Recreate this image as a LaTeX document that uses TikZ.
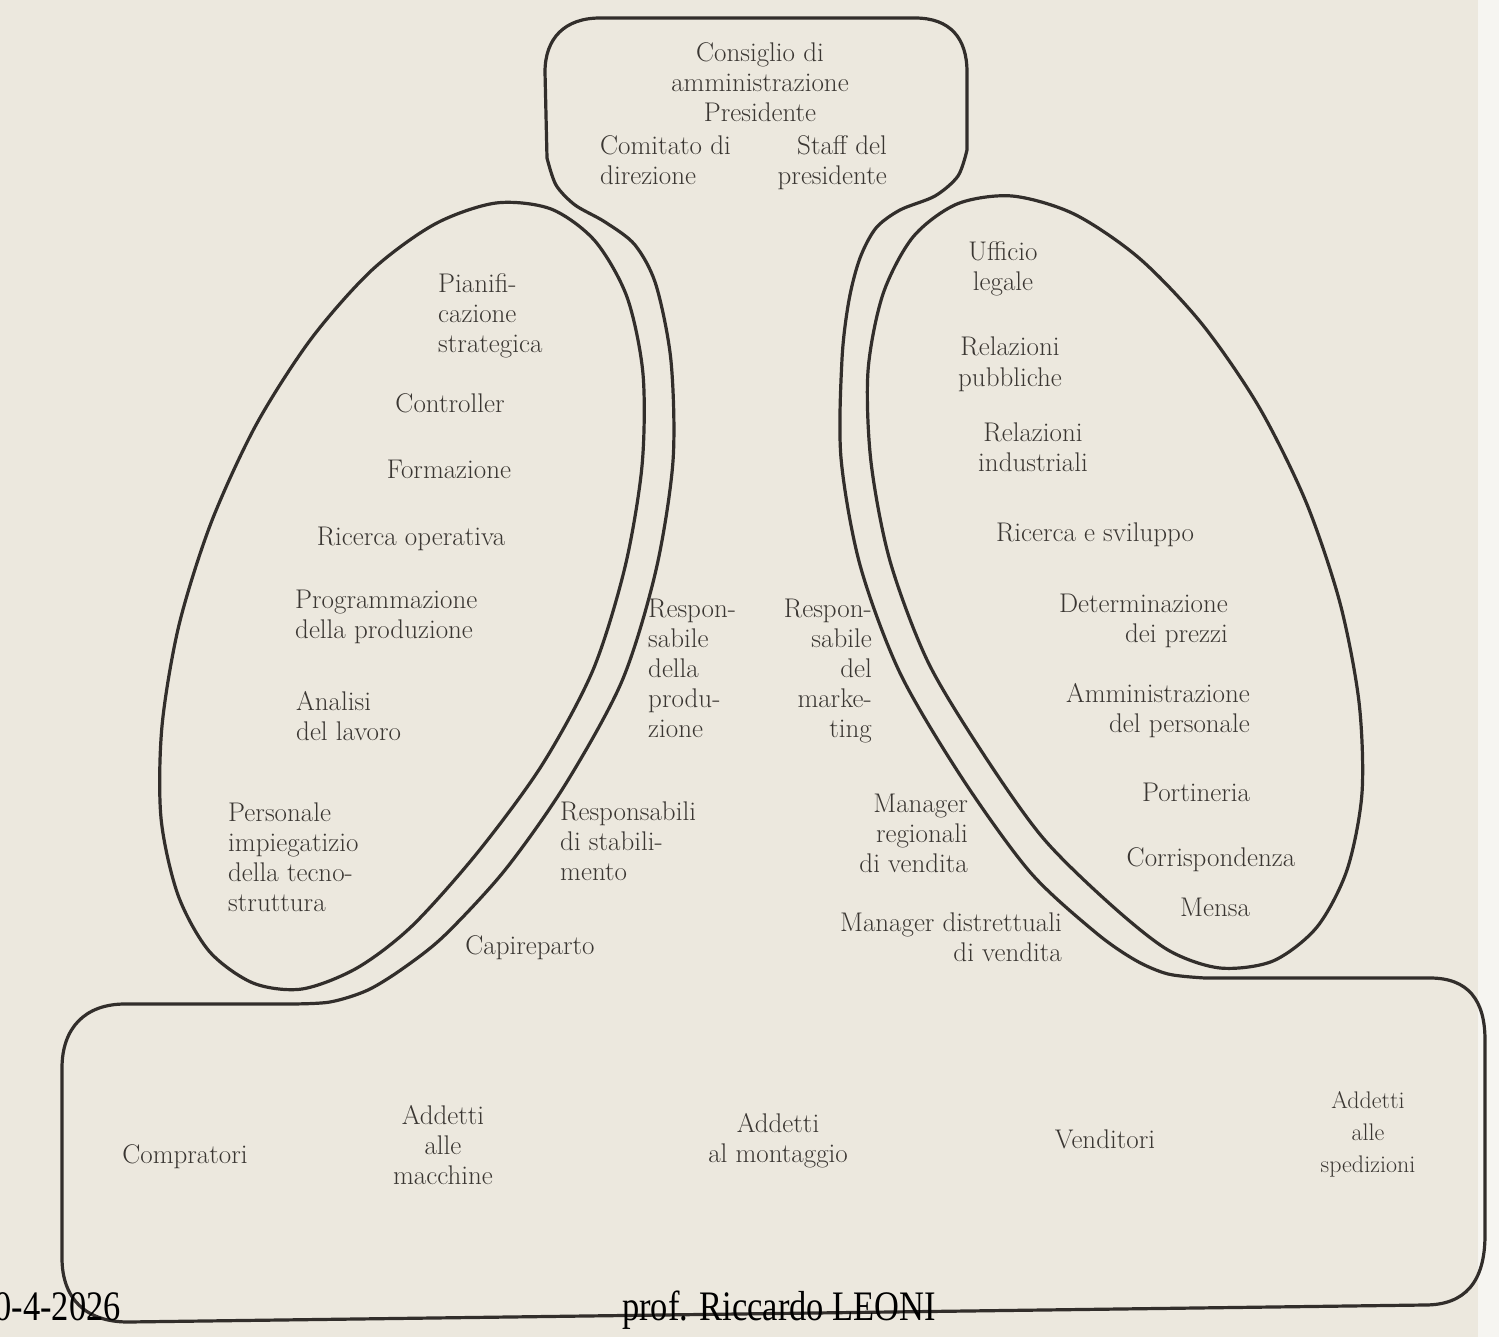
\documentclass[tikz,border=0pt]{standalone}
\usepackage{fontspec}
\usepackage{graphicx}
\newfontfamily\footfont{Liberation Serif}
\definecolor{paper}{RGB}{236,232,222}
\definecolor{pageedge}{RGB}{246,245,241}
\definecolor{ink}{RGB}{50,46,43}
\definecolor{textgray}{RGB}{58,54,50}
\begin{document}
\begin{tikzpicture}[x=1pt,y=-1pt,
  lbl/.style={font=\fontsize{27}{30}\selectfont, text=textgray, inner sep=0pt, align=center},
  lbll/.style={lbl, align=left},
  lblr/.style={lbl, align=right},
  rim/.style={draw=ink, line width=3.2pt, line join=round},
  foot/.style={inner sep=0pt, text=black, font=\fontsize{42}{48}\selectfont\footfont}]

% paper
\fill[paper] (0,0) rectangle (1499,1337);
\fill[pageedge] (1478,0) rectangle (1499,1337);
\useasboundingbox (0,0) rectangle (1499,1337);

% strategic apex, middle line and operating core: one outline
\draw[rim] (125,1004) -- (290,1004)
  -- plot[smooth] coordinates {(290,1004) (330,1002) (368,990) (405,967) (445,935) (505,870) (565,785) (622,681) (656,570) (673,461) (671,361) (656,285) (635,245) (605,222) (575,205) (556,185) (547,158)}
  -- (545,72) .. controls (545,38) and (565,18) .. (600,18) -- (915,18) .. controls (950,18) and (967,38) .. (967,72) -- (967,150)
  -- plot[smooth] coordinates {(967,150) (958,176) (935,196) (900,210) (876,228) (860,258) (849,300) (842,359) (841,458) (860,565) (900,673) (962,778) (1030,872) (1095,932) (1135,960) (1168,974) (1205,978)}
  -- (1430,978) .. controls (1468,978) and (1485,1000) .. (1485,1040) -- (1485,1235) .. controls (1485,1282) and (1465,1305) .. (1425,1305)
  -- (128,1322) .. controls (85,1322) and (62,1298) .. (62,1258) -- (62,1068) .. controls (62,1028) and (85,1004) .. (125,1004) -- cycle;

% technostructure
\draw[rim] plot[smooth cycle] coordinates {(551,209) (595,241) (627,297) (643,374) (642,466) (625,567) (593,670) (542,765) (478,852) (412,926) (357,968) (302,989) (253,983) (209,951) (178,895) (161,818) (162,726) (179,625) (211,523) (256,425) (311,339) (372,270) (435,224) (496,203)};

% support staff
\draw[rim] plot[smooth cycle] coordinates {(957,204) (1012,196) (1074,214) (1139,258) (1202,324) (1259,407) (1306,502) (1340,603) (1359,702) (1362,793) (1347,870) (1317,927) (1273,961) (1220,968) (1168,950) (1110,904) (1043,838) (984,755) (928,662) (890,561) (871,462) (868,371) (883,294) (913,237)};

% strategic apex
\node[lbl, anchor=base] (board) at (760,122) {Consiglio di\\amministrazione\\Presidente};
\node[lbll, anchor=base west] (committee) at (600,185) {Comitato di\\direzione};
\node[lblr, anchor=base east] (staff) at (887,185) {Staff del\\presidente};

% technostructure
\node[lbll, anchor=base west] (planning) at (438,353) {Pianifi-\\cazione\\strategica};
\node[lbl, anchor=base] (controller) at (450,413) {Controller};
\node[lbl, anchor=base] (training) at (449,478) {Formazione};
\node[lbl, anchor=base] (opres) at (411,545) {Ricerca operativa};
\node[lbll, anchor=base west] (prodplan) at (295,638) {Programmazione\\della produzione};
\node[lbll, anchor=base west] (workan) at (296,740) {Analisi\\del lavoro};
\node[lbll, anchor=base west] (clerks) at (228,911) {Personale\\impiegatizio\\della tecno-\\struttura};

% middle line
\node[lbll, anchor=base west] (vpprod) at (648,737) {Respon-\\sabile\\della\\produ-\\zione};
\node[lblr, anchor=base east] (vpmkt) at (872,737) {Respon-\\sabile\\del\\marke-\\ting};
\node[lbll, anchor=base west] (plant) at (560,880) {Responsabili\\di stabili-\\mento};
\node[lbl, anchor=base] (foremen) at (530,954) {Capireparto};
\node[lblr, anchor=base east] (regional) at (968,872) {Manager\\regionali\\di vendita};
\node[lblr, anchor=base east] (district) at (1062,961) {Manager distrettuali\\di vendita};

% support staff
\node[lbl, anchor=base] (legal) at (1003,291) {Ufficio\\legale};
\node[lbl, anchor=base] (pr) at (1010,386) {Relazioni\\pubbliche};
\node[lbl, anchor=base] (ir) at (1033,471) {Relazioni\\industriali};
\node[lbl, anchor=base] (rd) at (1095,541) {Ricerca e sviluppo};
\node[lblr, anchor=base east] (pricing) at (1228,642) {Determinazione\\dei prezzi};
\node[lblr, anchor=base east] (payroll) at (1250,732) {Amministrazione\\del personale};
\node[lbl, anchor=base] (reception) at (1196,801) {Portineria};
\node[lbl, anchor=base] (mail) at (1211,866) {Corrispondenza};
\node[lbl, anchor=base] (cafeteria) at (1215,916) {Mensa};

% operating core
\node[lbl, anchor=base] (buyers) at (185,1163) {Compratori};
\node[lbl, anchor=base] (machinists) at (443,1184) {Addetti\\alle\\macchine};
\node[lbl, anchor=base] (assemblers) at (778,1162) {Addetti\\al montaggio};
\node[lbl, anchor=base] (sellers) at (1105,1148) {Venditori};
\node[lbl, anchor=base, font=\fontsize{24}{32}\selectfont] (shippers) at (1368,1172) {Addetti\\alle\\spedizioni};

% footer
\node[foot, anchor=base east] (date) at (121,1320) {\scalebox{0.82}[1]{0-4-2026}};
\node[foot, anchor=base west] (author) at (622,1320) {\scalebox{0.82}[1]{prof. Riccardo LEONI}};
\end{tikzpicture}
\end{document}
